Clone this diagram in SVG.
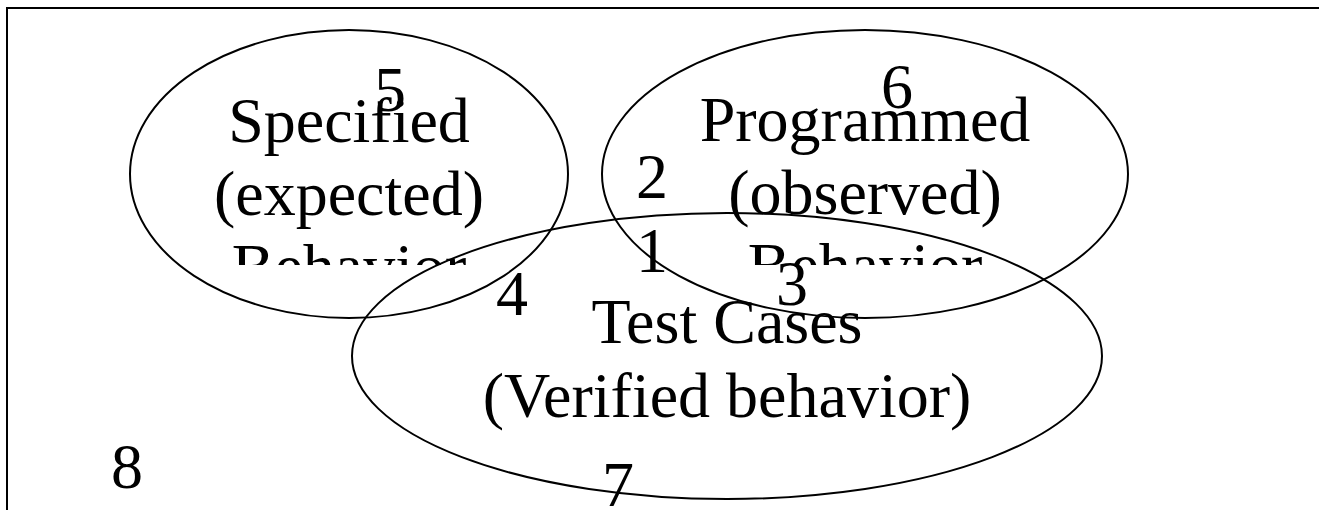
<svg xmlns="http://www.w3.org/2000/svg" width="1319" height="510" viewBox="0 0 1319 510">
<style>
.shape{fill:none;stroke:#000;stroke-width:2}
.t{font-family:"Liberation Serif","Times New Roman",serif;font-size:64px;fill:#000;text-anchor:middle}
</style>
<defs>
<clipPath id="clipTop"><rect x="0" y="0" width="1319" height="265"/></clipPath>
</defs>
<rect width="1319" height="510" fill="#fff"/>
<g id="frame"><path class="shape" d="M7,510 V8 H1319"/></g>
<g id="connectors"></g>
<g id="specified">
<ellipse class="shape" cx="349" cy="174" rx="219" ry="144"/>
<g clip-path="url(#clipTop)">
<text class="t" x="349" y="142">Specified</text>
<text class="t" x="349" y="215">(expected)</text>
<text class="t" x="349" y="288">Behavior</text>
</g>
</g>
<g id="programmed">
<ellipse class="shape" cx="865" cy="174" rx="263" ry="144"/>
<g clip-path="url(#clipTop)">
<text class="t" x="865" y="141">Programmed</text>
<text class="t" x="865" y="214">(observed)</text>
<text class="t" x="865" y="287">Behavior</text>
</g>
</g>
<g id="testcases">
<ellipse class="shape" cx="727" cy="356" rx="375" ry="143"/>
<text class="t" x="727" y="343">Test Cases</text>
<text class="t" x="727" y="417">(Verified behavior)</text>
</g>
<g id="numbers">
<text class="t" x="390" y="111">5</text>
<text class="t" x="897" y="108">6</text>
<text class="t" x="652" y="198">2</text>
<text class="t" x="652" y="272">1</text>
<text class="t" x="792" y="305">3</text>
<text class="t" x="512" y="315">4</text>
<text class="t" x="618" y="506">7</text>
<text class="t" x="127" y="488">8</text>
</g>
</svg>
